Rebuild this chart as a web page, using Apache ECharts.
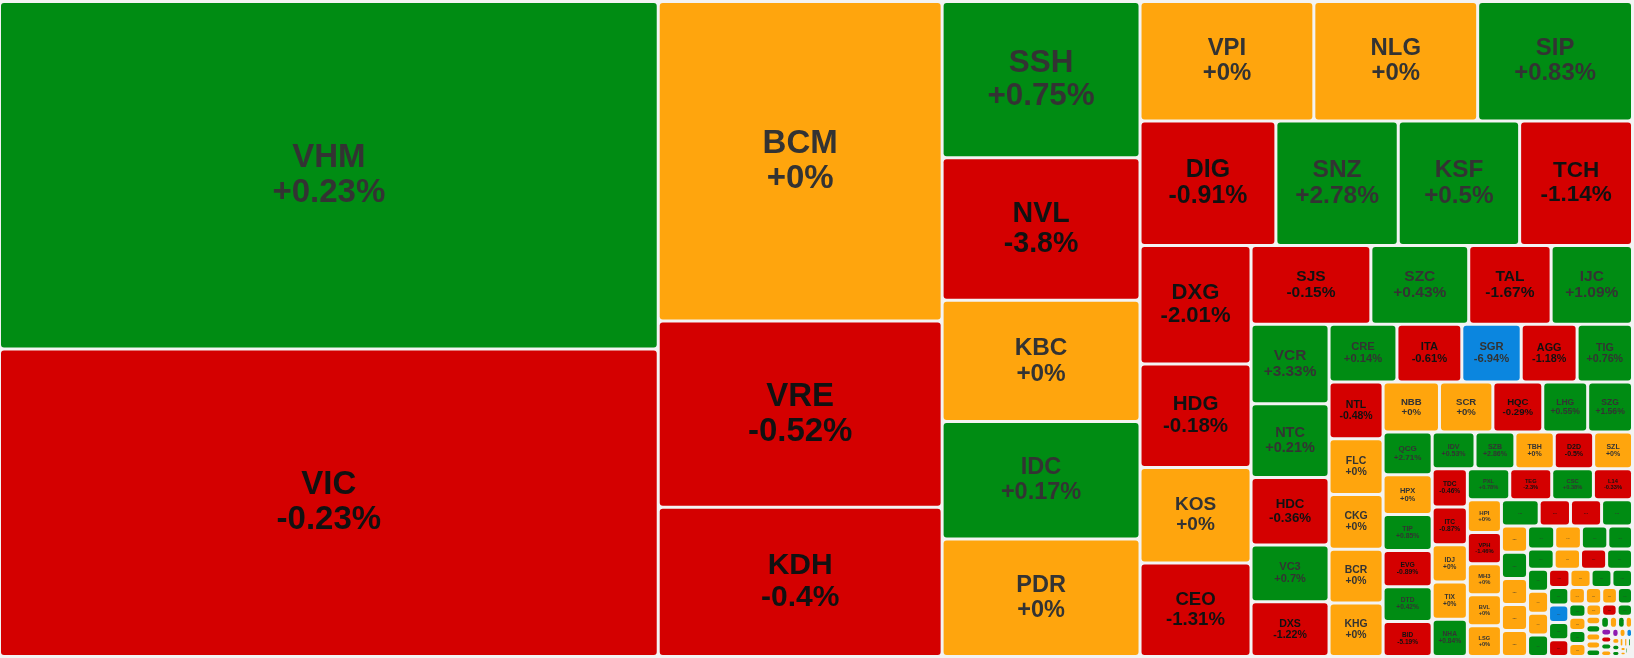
<!DOCTYPE html>
<html>
<head>
<meta charset="utf-8" />
<script src="https://cdn.jsdelivr.net/npm/echarts@6.0.0/dist/echarts.min.js"></script>
<title>Treemap</title>
<style>
html, body { margin: 0; padding: 0; background: #f3f3f3; }
#main { width: 1634px; height: 658px; }
</style>
</head>
<body>
<div id="main"></div>
<script>
// named stocks: ticker, % change, size
var tickers = ['VHM','VIC','BCM','VRE','KDH','SSH','NVL','KBC','IDC','PDR',
  'VPI','NLG','SIP','DIG','SNZ','KSF','TCH','DXG','HDG','KOS','CEO',
  'SJS','SZC','TAL','IJC','VCR','NTC','HDC','VC3','DXS',
  'CRE','ITA','SGR','AGG','TIG','NTL','FLC','CKG','BCR','KHG',
  'NBB','SCR','HQC','LHG','SZG','QCG','HPX','TIP','EVG','DTD','BID',
  'IDV','SZB','TBH','D2D','SZL','TDC','ITC','IDJ','TIX','NHA',
  'PXL','TEG','CSC','L14','HPI','VPH','MH3','BVL','LSG'];
var changes = [0.23,-0.23,0,-0.52,-0.4,0.75,-3.8,0,0.17,0,
  0,0,0.83,-0.91,2.78,0.5,-1.14,-2.01,-0.18,0,-1.31,
  -0.15,0.43,-1.67,1.09,3.33,0.21,-0.36,0.7,-1.22,
  0.14,-0.61,-6.94,-1.18,0.76,-0.48,0,0,0,0,
  0,0,-0.29,0.55,1.56,2.71,0,0.85,-0.89,0.42,-5.19,
  0.53,2.86,0,-0.5,0,-0.46,-0.87,0,0,0.84,
  0.78,-2.3,0.38,-0.33,0,-1.46,0,0,0];
var sizes = [229991,203631,91164,53108,42600,31086,28314,24156,23364,23360,
  20880,19680,18600,17000,15312,15188,14125,13209,11544,10656,10434,
  9480,7742,6518,6439,6240,5772,5304,4446,4290,
  3944,3770,3451,3248,3219,3078,3024,2970,2916,2910,
  2825,2675,2500,2250,2245,2107,1960,1784,1779,1725,1720,
  1591,1480,1462,1461,1443,1350,1335,1320,1318,1316,
  1312,1300,1290,1210,1122,1071,1064,1061,1054];

// tiny cells whose labels are cut to "..."
var smallTrend = ['up','down','down','up',
  'ref','up','ref','ref','ref',
  'up','ref','up','up',
  'up','ref','down','up',
  'up','ref','ref','up',
  'down','ref','up','up',
  'up','floor','up','down',
  'ref','ref','ref','up',
  'up','ref','up','ref',
  'ref','down','up',
  'ref','up','ref','ref','up','up','ref','up','ref','ceil','down','up','ref','ceil',
  'ref','floor','ref','up','up','ref','ref','up','ref','ref','up','ref','ref'];
var smallSizes = [995,825,820,815,
  690,688,685,684,680,
  632,622,615,575,
  540,535,530,525,
  465,462,460,455,
  390,385,380,375,
  360,355,350,340,
  275,270,260,250,
  229,228,226,224,
  196,194,192,
  125,123,121,119,110,104,98,92,88,84,80,76,72,68,
  64,60,56,52,48,44,40,36,32,28,24,20,16];

// how many cells each successive strip of the treemap holds (the rest nests after it)
var stripCounts = [2,3,5,3,4,4,4,5,5,5,5,6,5,5,4,5,
  4,5,4,4,4,4,4,4,4,3];

var colors = { up: '#008c13', down: '#d40000', ref: '#ffa50d', floor: '#0b86df', ceil: '#8e1bb0' };

function trendOf(c) {
  if (c >= 6.9) return 'ceil';
  if (c <= -6.9) return 'floor';
  return c > 0 ? 'up' : (c < 0 ? 'down' : 'ref');
}
function pct(c) {
  return (c >= 0 ? '+' : '') + c + '%';
}

function buildLeaves(fonts) {
  var out = [];
  for (var i = 0; i < tickers.length; i++) {
    var t = trendOf(changes[i]);
    out.push({ name: tickers[i], value: sizes[i], chg: changes[i], trend: t });
  }
  for (var j = 0; j < smallSizes.length; j++) {
    out.push({ name: '', value: smallSizes[j], chg: null, trend: smallTrend[j] });
  }
  for (var k = 0; k < out.length; k++) {
    var it = out[k];
    it.k = k;
    it.itemStyle = { color: colors[it.trend] };
    it.label = { color: it.trend == 'down' ? '#111' : '#333' };
    if (fonts && fonts[k]) {
      it.label.fontSize = fonts[k];
      it.label.lineHeight = Math.round(fonts[k] * 1.05);
    }
  }
  return out;
}

function buildTree(leaves) {
  var root = [], cur = root, pos = 0;
  for (var s = 0; s < stripCounts.length; s++) {
    for (var i = 0; i < stripCounts[s]; i++) cur.push(leaves[pos++]);
    var rest = { name: '', children: [] };
    cur.push(rest);
    cur = rest.children;
  }
  while (pos < leaves.length) cur.push(leaves[pos++]);
  return root;
}

var chart = echarts.init(document.getElementById('main'));
var option = {
  animation: false,
  backgroundColor: '#f3f3f3',
  series: [{
    type: 'treemap',
    left: 1, top: 3, right: 3, bottom: 3,
    roam: false,
    nodeClick: false,
    sort: false,
    breadcrumb: { show: false },
    itemStyle: { borderWidth: 0, gapWidth: 3, borderColor: '#f3f3f3', borderRadius: 3 },
    label: {
      show: true,
      position: 'inside',
      fontFamily: 'Arial, "Liberation Sans", sans-serif',
      fontWeight: 'bold',
      padding: 2,
      overflow: 'truncate',
      formatter: function (p) {
        if (p.data.chg === null || p.data.chg === undefined) return '...';
        return p.name + '\n' + pct(p.data.chg);
      }
    },
    data: buildTree(buildLeaves(null))
  }]
};
chart.setOption(option);

// font size follows the size of each cell as laid out by the treemap
try {
  var tree = chart.getModel().getSeriesByIndex(0).getData().tree;
  var fonts = [];
  tree.root.eachNode(function (node) {
    if (node.children && node.children.length) return;
    var item = tree.data.getRawDataItem(node.dataIndex);
    var lay = node.getLayout();
    if (item && item.k != null && lay) {
      var s = Math.min(lay.width, lay.height) * 0.205;
      fonts[item.k] = Math.round(Math.max(4, Math.min(33, s)) * 10) / 10;
    }
  });
  option.series[0].data = buildTree(buildLeaves(fonts));
  chart.setOption(option);
} catch (e) {
  console.log(e);
}
</script>
</body>
</html>
